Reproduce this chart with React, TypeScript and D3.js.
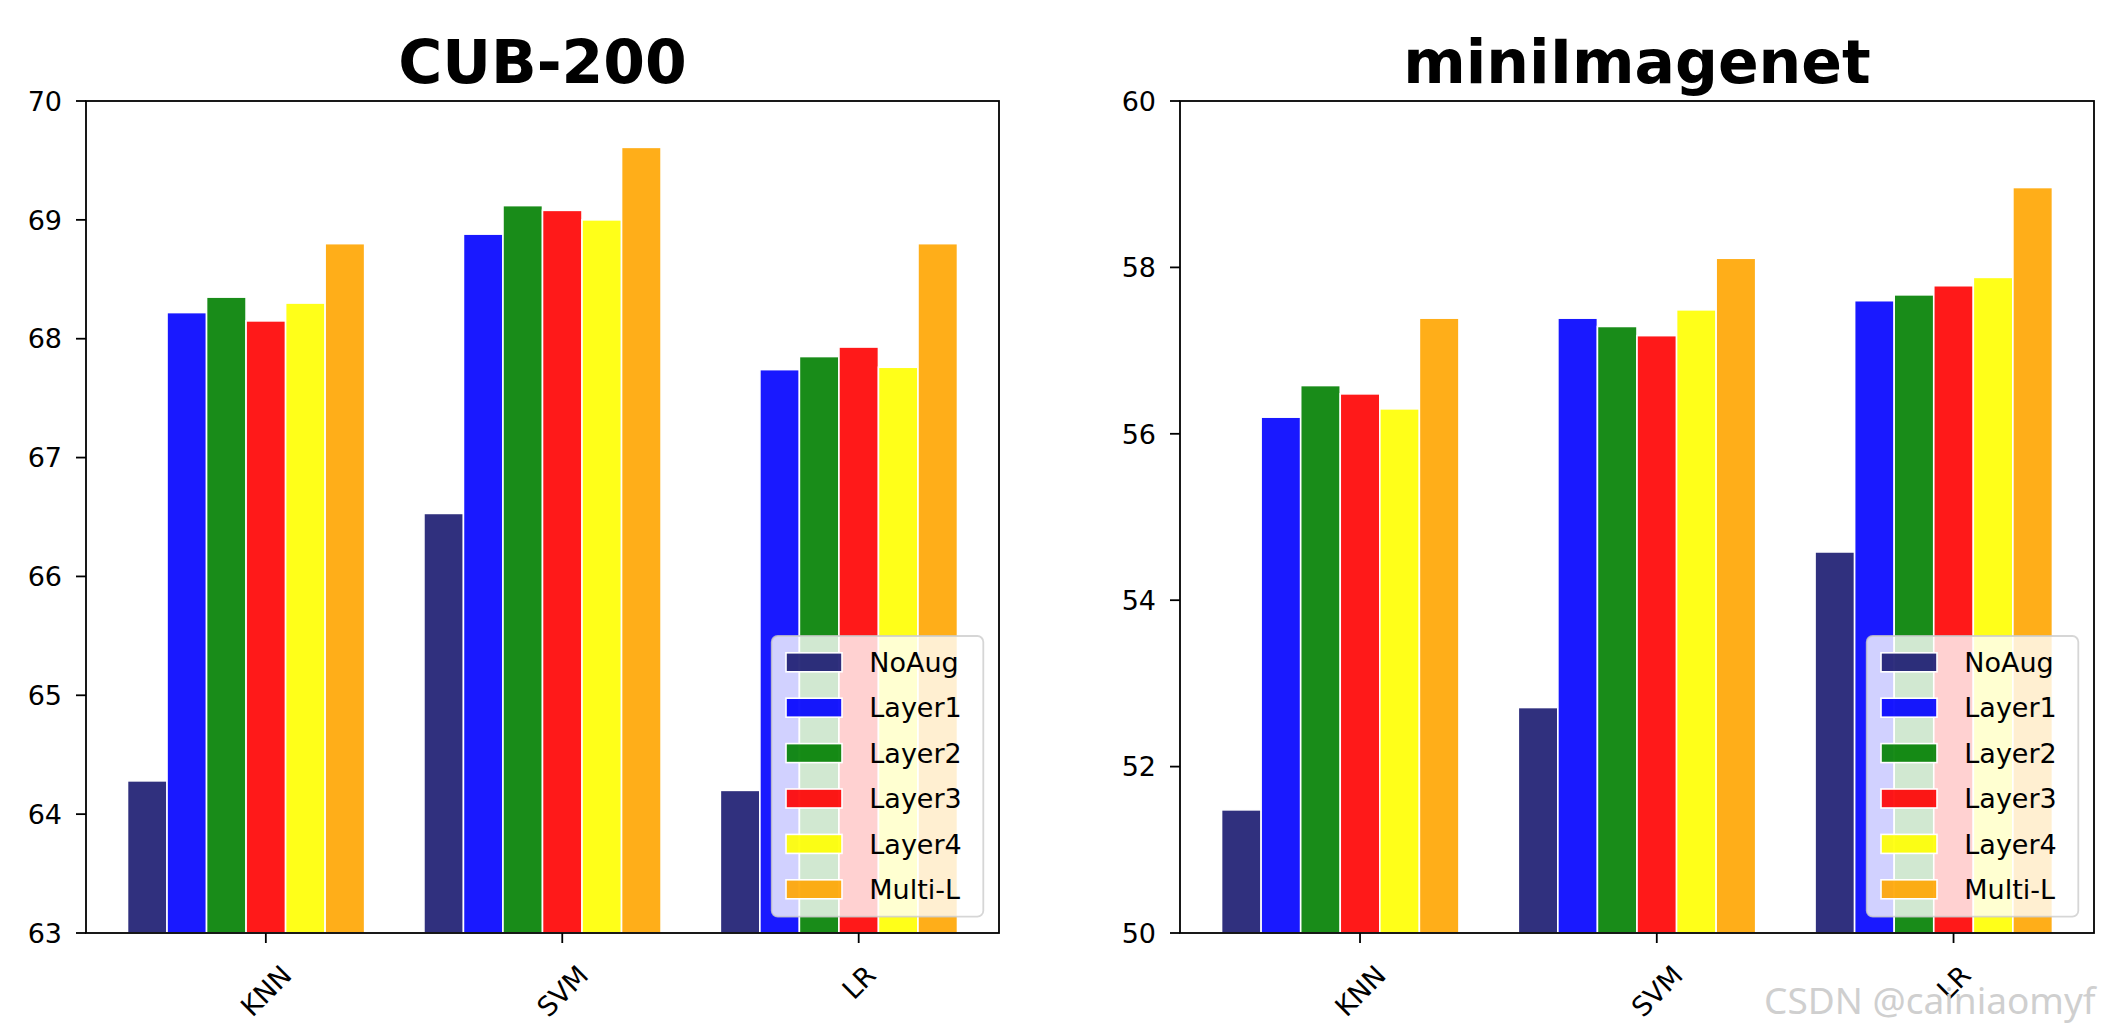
import React, { useEffect, useRef } from "react";
import * as d3 from "d3";

const categories = ["KNN", "SVM", "LR"];
const seriesNames = ["NoAug", "Layer1", "Layer2", "Layer3", "Layer4", "Multi-L"];
const seriesColors = ["#191970", "#0000ff", "#008000", "#ff0000", "#ffff00", "#ffa500"];

const cubNoAug = [64.28, 66.53, 64.2];
const cubLayer1 = [68.22, 68.88, 67.74];
const cubLayer2 = [68.35, 69.12, 67.85];
const cubLayer3 = [68.15, 69.08, 67.93];
const cubLayer4 = [68.3, 69.0, 67.76];
const cubMulti = [68.8, 69.61, 68.8];

const miniNoAug = [51.48, 52.71, 54.58];
const miniLayer1 = [56.2, 57.39, 57.6];
const miniLayer2 = [56.58, 57.29, 57.67];
const miniLayer3 = [56.48, 57.18, 57.78];
const miniLayer4 = [56.3, 57.49, 57.88];
const miniMulti = [57.39, 58.11, 58.96];

const cubTicks = [63, 64, 65, 66, 67, 68, 69, 70];
const miniTicks = [50, 52, 54, 56, 58, 60];

const panels = [
  {
    title: "CUB-200",
    series: [cubNoAug, cubLayer1, cubLayer2, cubLayer3, cubLayer4, cubMulti],
    yDomain: [63, 70],
    ticks: cubTicks,
    x0: 86,
    x1: 999,
  },
  {
    title: "miniImagenet",
    series: [miniNoAug, miniLayer1, miniLayer2, miniLayer3, miniLayer4, miniMulti],
    yDomain: [50, 60],
    ticks: miniTicks,
    x0: 1180,
    x1: 2094,
  },
];

const W = 2119;
const H = 1036;
const TOP = 101;
const BOTTOM = 933;
const FONT = "'DejaVu Sans', sans-serif";
const FS = 27;

export default function App() {
  const ref = useRef<SVGSVGElement | null>(null);

  useEffect(() => {
    const svg = d3.select(ref.current);
    svg.selectAll("*").remove();
    svg.append("rect").attr("width", W).attr("height", H).attr("fill", "#fff");

    const n = seriesNames.length;
    const barW = 0.8 / n;
    const minX = -3 * barW - barW / 2;
    const maxX = categories.length - 1 + 2 * barW + barW / 2;
    const pad = (maxX - minX) * 0.05;

    panels.forEach((p) => {
      const g = svg.append("g");
      const x = d3.scaleLinear().domain([minX - pad, maxX + pad]).range([p.x0, p.x1]);
      const y = d3.scaleLinear().domain(p.yDomain).range([BOTTOM, TOP]);
      const pxW = x(barW) - x(0);

      p.series.forEach((vals, si) => {
        g.append("g")
          .selectAll("rect")
          .data(vals)
          .join("rect")
          .attr("x", (_d, ci) => x(ci + (si - 3) * barW) - pxW / 2)
          .attr("width", pxW)
          .attr("y", (d) => y(d))
          .attr("height", (d) => BOTTOM - y(d))
          .attr("fill", seriesColors[si])
          .attr("fill-opacity", 0.9)
          .attr("stroke", "#fff")
          .attr("stroke-width", 1.6);
      });

      g.append("rect")
        .attr("x", p.x0)
        .attr("y", TOP)
        .attr("width", p.x1 - p.x0)
        .attr("height", BOTTOM - TOP)
        .attr("fill", "none")
        .attr("stroke", "#000")
        .attr("stroke-width", 1.8);

      const yt = g.append("g");
      p.ticks.forEach((t) => {
        yt.append("line")
          .attr("x1", p.x0 - 10)
          .attr("x2", p.x0)
          .attr("y1", y(t))
          .attr("y2", y(t))
          .attr("stroke", "#000")
          .attr("stroke-width", 1.8);
        yt.append("text")
          .attr("x", p.x0 - 24)
          .attr("y", y(t))
          .attr("dy", "0.36em")
          .attr("text-anchor", "end")
          .attr("font-family", FONT)
          .attr("font-size", FS)
          .attr("fill", "#000")
          .text(String(t));
      });

      categories.forEach((c, ci) => {
        const tx = x(ci);
        g.append("line")
          .attr("x1", tx)
          .attr("x2", tx)
          .attr("y1", BOTTOM)
          .attr("y2", BOTTOM + 10)
          .attr("stroke", "#000")
          .attr("stroke-width", 1.8);
        const lg = g.append("g");
        const t = lg
          .append("text")
          .attr("x", 0)
          .attr("y", 0)
          .attr("dy", FS * 0.365)
          .attr("text-anchor", "middle")
          .attr("font-family", FONT)
          .attr("font-size", FS)
          .attr("fill", "#000")
          .text(c);
        const w = (t.node() as SVGTextElement).getComputedTextLength();
        const capH = FS * 0.73;
        const cy = BOTTOM + 30 + ((w + capH) * Math.SQRT1_2) / 2;
        lg.attr("transform", `translate(${tx},${cy}) rotate(-45)`);
      });

      g.append("text")
        .attr("x", (p.x0 + p.x1) / 2)
        .attr("y", 83)
        .attr("text-anchor", "middle")
        .attr("font-family", FONT)
        .attr("font-weight", "bold")
        .attr("font-size", 60)
        .attr("fill", "#000")
        .text(p.title);

      const lw = 211.6;
      const lh = 280.7;
      const lx = p.x1 - 15.7 - lw;
      const ly = BOTTOM - 16.3 - lh;
      const leg = g.append("g");
      leg.append("rect")
        .attr("x", lx)
        .attr("y", ly)
        .attr("width", lw)
        .attr("height", lh)
        .attr("rx", 6)
        .attr("fill", "#fff")
        .attr("fill-opacity", 0.8)
        .attr("stroke", "#cccccc")
        .attr("stroke-opacity", 0.8)
        .attr("stroke-width", 1.8);
      seriesNames.forEach((s, si) => {
        const cy = ly + 26.3 + si * 45.4;
        leg.append("rect")
          .attr("x", lx + 14.3)
          .attr("y", cy - 9.5)
          .attr("width", 56)
          .attr("height", 19)
          .attr("fill", seriesColors[si])
          .attr("fill-opacity", 0.9)
          .attr("stroke", "#fff")
          .attr("stroke-width", 1.6);
        leg.append("text")
          .attr("x", lx + 97.6)
          .attr("y", cy)
          .attr("dy", "0.36em")
          .attr("font-family", FONT)
          .attr("font-size", FS)
          .attr("fill", "#000")
          .text(s);
      });
    });

    svg.append("text")
      .attr("x", 1764)
      .attr("y", 1014)
      .attr("font-family", "'Noto Sans', 'DejaVu Sans', sans-serif")
      .attr("font-size", 37)
      .attr("fill", "#cfcfcf")
      .text("CSDN @cainiaomyf");
  }, []);

  return (
    <svg
      ref={ref}
      width={W}
      height={H}
      style={{ position: "absolute", left: 0, top: 0, display: "block" }}
    />
  );
}
